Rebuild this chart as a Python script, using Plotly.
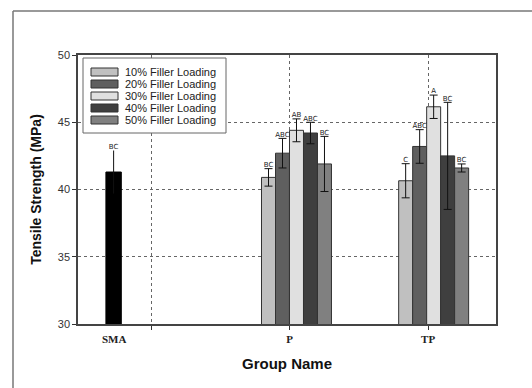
import plotly.graph_objects as go

# ---------------- data ----------------
groups = ["P", "TP"]
series_names = ["10% Filler Loading", "20% Filler Loading", "30% Filler Loading",
                "40% Filler Loading", "50% Filler Loading"]
values = {
    "10% Filler Loading": [40.9, 40.65],
    "20% Filler Loading": [42.7, 43.2],
    "30% Filler Loading": [44.4, 46.15],
    "40% Filler Loading": [44.2, 42.5],
    "50% Filler Loading": [41.9, 41.6],
}
errors = {
    "10% Filler Loading": [0.65, 1.27],
    "20% Filler Loading": [1.1, 1.25],
    "30% Filler Loading": [0.85, 0.87],
    "40% Filler Loading": [0.8, 3.98],
    "50% Filler Loading": [2.05, 0.3],
}
letters = {
    "10% Filler Loading": ["BC", "C"],
    "20% Filler Loading": ["ABC", "ABC"],
    "30% Filler Loading": ["AB", "A"],
    "40% Filler Loading": ["ABC", "BC"],
    "50% Filler Loading": ["BC", "BC"],
}
sma_value = [41.3]
sma_error = [1.6]
sma_letter = ["BC"]
tick_labels = ["", "P", "TP"]
y_ticks = [30, 35, 40, 45, 50]

# ---------------- layout helpers ----------------
colors = ["#c0c0c0", "#5f5f5f", "#e0e0e0", "#3f3f3f", "#808080"]
centers = {"SMA": 0.73, "P": 2.05, "TP": 3.04}
w = 0.101

W, H = 532, 388
L, R, T, B = 78, 36, 55, 64
pw, ph = W - L - R, H - T - B


def px_x(p):
    return (p - L) / pw


def px_y(p):
    return (H - B - p) / ph


fig = go.Figure()

for i, name in enumerate(series_names):
    xs = [centers[g] for g in groups]
    off = (i - 2.5) * w
    fig.add_trace(go.Bar(
        x=xs, y=values[name], name=name, showlegend=False,
        offset=off, width=w,
        marker=dict(color=colors[i], line=dict(color="#333333", width=1)),
        error_y=dict(type="data", array=errors[name], color="#111111",
                     thickness=1, width=4),
    ))
    fig.add_trace(go.Scatter(
        x=[c + off + w / 2 for c in xs],
        y=[v + e for v, e in zip(values[name], errors[name])],
        mode="text", text=letters[name], textposition="top center",
        textfont=dict(family="DejaVu Sans", size=7, color="#222222"),
        showlegend=False, hoverinfo="skip",
    ))

fig.add_trace(go.Bar(
    x=[centers["SMA"]], y=sma_value, name="SMA", showlegend=False,
    offset=-w / 2 - 0.005, width=w + 0.01,
    marker=dict(color="#000000", line=dict(color="#000000", width=1)),
    error_y=dict(type="data", array=sma_error, color="#111111",
                 thickness=1, width=0),
))
fig.add_trace(go.Scatter(
    x=[centers["SMA"]], y=[sma_value[0] + sma_error[0]],
    mode="text", text=sma_letter, textposition="top center",
    textfont=dict(family="DejaVu Sans", size=7, color="#222222"),
    showlegend=False, hoverinfo="skip",
))

# outer frame (top and left edges only)
shapes = [
    dict(type="line", xref="paper", yref="paper",
         x0=px_x(13), x1=px_x(W + 2), y0=px_y(11), y1=px_y(11),
         line=dict(color="#777777", width=1.5)),
    dict(type="line", xref="paper", yref="paper",
         x0=px_x(13), x1=px_x(13), y0=px_y(11), y1=px_y(H + 2),
         line=dict(color="#777777", width=1.5)),
]
annotations = []

# custom legend (wide swatches like the original)
lg_left, lg_top, lg_right, lg_bottom = 83, 58, 226, 133
shapes.append(dict(type="rect", xref="paper", yref="paper", layer="above",
                   x0=px_x(lg_left), x1=px_x(lg_right), y0=px_y(lg_top), y1=px_y(lg_bottom),
                   fillcolor="white", line=dict(color="#666666", width=1)))
for i, name in enumerate(series_names):
    cy = 72 + i * 12
    shapes.append(dict(type="rect", xref="paper", yref="paper", layer="above",
                       x0=px_x(91), x1=px_x(118), y0=px_y(cy - 4), y1=px_y(cy + 4),
                       fillcolor=colors[i], line=dict(color="#333333", width=1)))
    annotations.append(dict(x=px_x(123), y=px_y(cy), xref="paper", yref="paper",
                            xanchor="left", yanchor="middle", showarrow=False, text=name,
                            font=dict(family="Liberation Sans, Arial", size=11, color="#222222")))

annotations.append(dict(
    x=centers["SMA"] + 0.01, y=0, xref="x", yref="paper",
    yanchor="top", yshift=-7, showarrow=False, text="SMA",
    font=dict(family="Liberation Serif, Times New Roman", size=11, color="#222222", weight="bold"),
))

fig.update_layout(
    width=W, height=H,
    margin=dict(l=L, r=R, t=T, b=B),
    paper_bgcolor="white", plot_bgcolor="white",
    barmode="overlay",
    showlegend=False,
    xaxis=dict(
        range=[0.473, 3.49], automargin=False,
        tickvals=[1, 2, 3], ticktext=tick_labels,
        ticks="outside", ticklen=4, tickcolor="#333333",
        tickfont=dict(family="Liberation Serif, Times New Roman", size=11, color="#222222", weight="bold"),
        showgrid=True, gridcolor="#666666", griddash="dot", gridwidth=1,
        showline=True, linecolor="#444444", linewidth=1.5, mirror=True,
        zeroline=False,
        title=dict(text="Group Name", standoff=15,
                   font=dict(family="Liberation Sans, Arial", size=15, color="#111111", weight="bold")),
    ),
    yaxis=dict(
        range=[30, 50], automargin=False,
        tickvals=y_ticks,
        ticks="outside", ticklen=4, tickcolor="#333333",
        tickfont=dict(family="Liberation Sans, Arial", size=11, color="#333333"),
        showgrid=True, gridcolor="#666666", griddash="dot", gridwidth=1,
        showline=True, linecolor="#444444", linewidth=1.5, mirror=True,
        zeroline=False,
        title=dict(text="Tensile Strength (MPa)", standoff=13,
                   font=dict(family="Liberation Sans, Arial", size=14, color="#111111", weight="bold")),
    ),
    annotations=annotations,
    shapes=shapes,
)

fig.write_html("out.html", config={"displayModeBar": False},
               post_script="document.body.style.margin='0';document.body.style.overflow='hidden';")
